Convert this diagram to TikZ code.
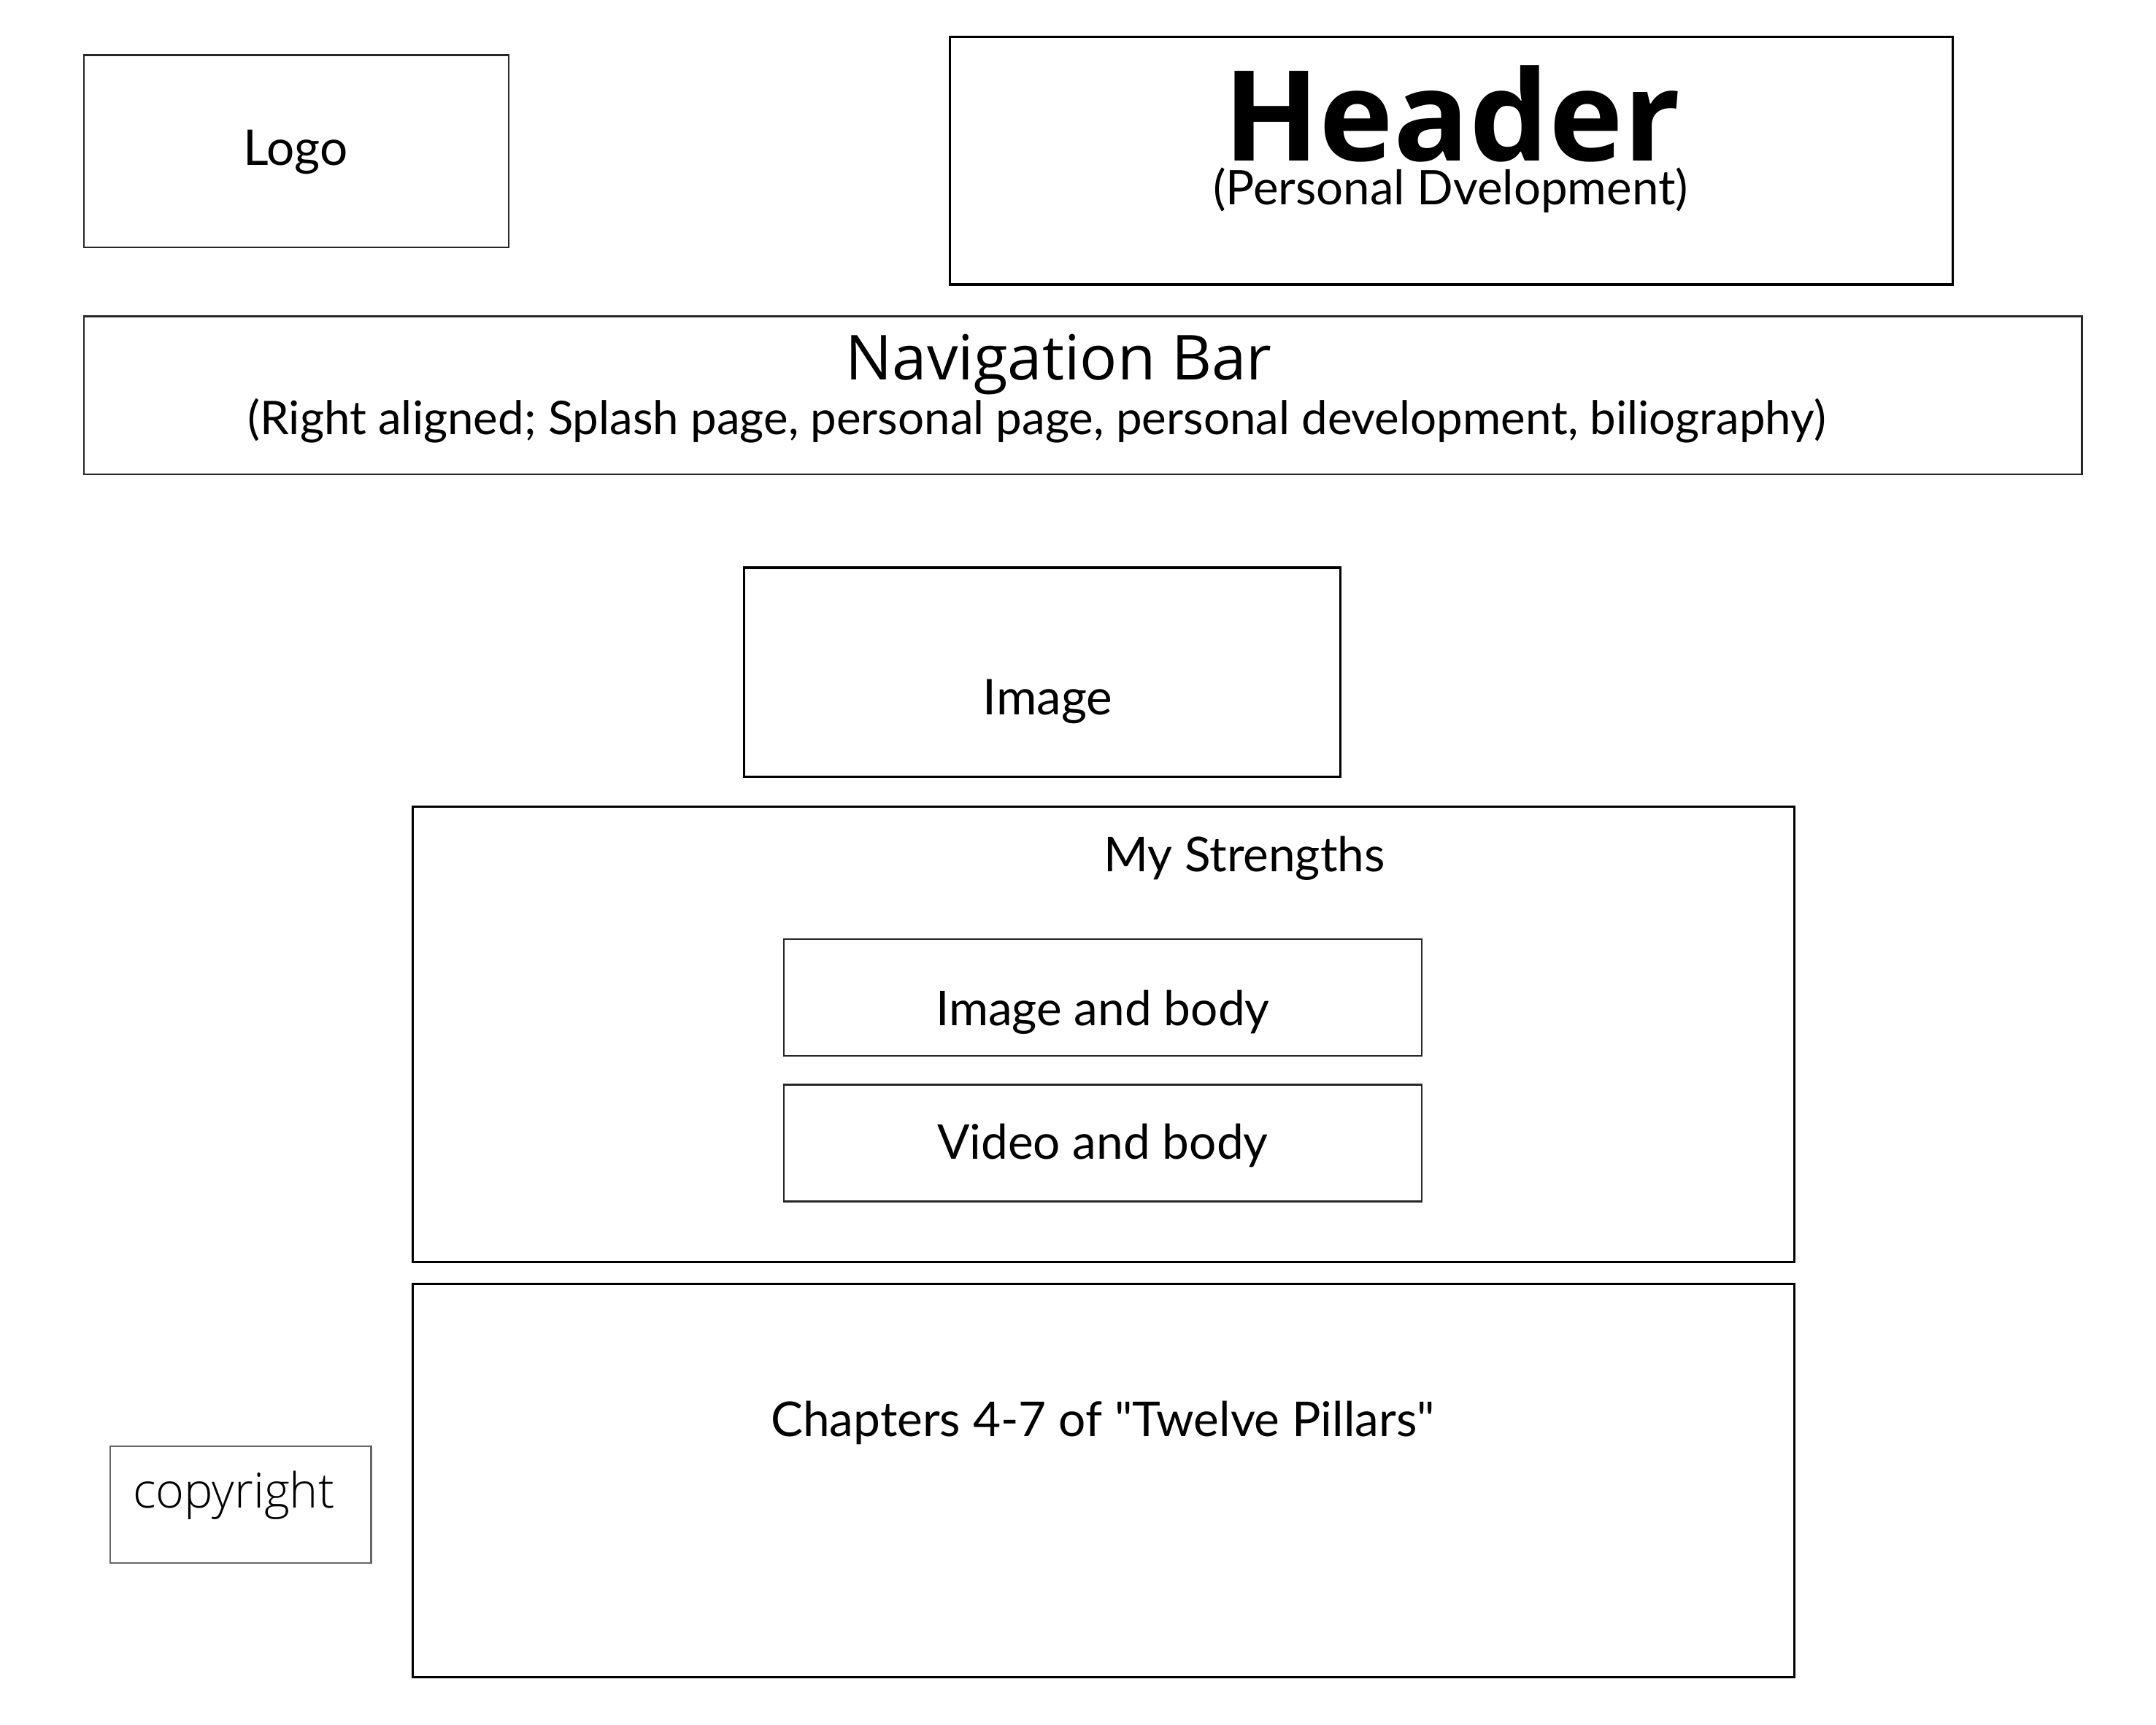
\documentclass[tikz,border=0pt]{standalone}
\usepackage{fontspec}
\setmainfont{Lato}
\newfontfamily\latoplain{Lato}
\newfontfamily\opensans{Open Sans}
\newfontfamily\opensanslight{Open Sans Light}
\usepackage{tikz}

\begin{document}
\begin{tikzpicture}[line width=.7pt,
        frame/.style={draw=black!85,inner sep=0pt},
        lbl/.style={anchor=base,inner sep=0pt,font=\fontsize{18.7}{22}\selectfont}]
    \useasboundingbox (0,0) rectangle (29.54,-23.63);

    % boxes
    \node[frame,minimum width=5.821cm,minimum height=2.637cm] (logo) at (4.060,-2.072) {};
    \node[frame,draw=black,line width=.9pt,minimum width=13.733cm,minimum height=3.391cm] (header) at (19.884,-2.204) {};
    \node[frame,minimum width=27.373cm,minimum height=2.166cm] (nav) at (14.836,-5.416) {};
    \node[frame,draw=black,line width=.9pt,minimum width=8.176cm,minimum height=2.863cm] (image) at (14.280,-9.212) {};
    \node[frame,draw=black,line width=.8pt,minimum width=18.933cm,minimum height=6.236cm] (strengths) at (15.118,-14.176) {};
    \node[frame,minimum width=8.741cm,minimum height=1.601cm] (imgbody) at (15.109,-13.668) {};
    \node[frame,minimum width=8.741cm,minimum height=1.601cm] (vidbody) at (15.109,-15.665) {};
    \node[frame,draw=black,line width=.8pt,minimum width=18.933cm,minimum height=5.388cm] (chapters) at (15.118,-20.290) {};
    \node[frame,draw=black!60,minimum width=3.579cm,minimum height=1.601cm] (copy) at (3.297,-20.619) {};

    % texts
    \node[lbl,font=\fontsize{19.2}{22}\selectfont] (logotxt) at (4.050,-2.261) {Logo};
    \node[lbl,font=\opensans\bfseries\fontsize{49}{58}\selectfont] (headtxt) at (19.894,-2.200) {Header};
    \node[lbl,font=\fontsize{18.6}{22}\selectfont] (headsub) at (19.875,-2.800) {(Personal Dvelopment)};
    \node[lbl,font=\opensans\fontsize{24.2}{29}\selectfont] (navtxt) at (14.506,-5.200) {Navigation Bar};
    \node[lbl,font=\fontsize{18.1}{22}\selectfont] (navsub) at (14.205,-5.953)
        {(Right aligned; Splash page, personal page, personal development, biliography)};
    \node[lbl,font=\fontsize{19.2}{22}\selectfont] (imagetxt) at (14.355,-9.796) {Image};
    \node[lbl] (strtxt) at (17.049,-11.944) {My Strengths};
    \node[lbl] (imgbodytxt) at (15.109,-14.054) {Image and body};
    \node[lbl] (vidbodytxt) at (15.109,-15.881) {Video and body};
    \node[lbl,font=\latoplain\fontsize{18.7}{22}\selectfont] (chaptxt) at (15.109,-19.687) {Chapters 4-7 of "Twelve Pillars"};
    \node[lbl,font=\opensanslight\fontsize{18.9}{22}\selectfont] (copytxt) at (3.203,-20.666) {copyright};
\end{tikzpicture}
\end{document}
